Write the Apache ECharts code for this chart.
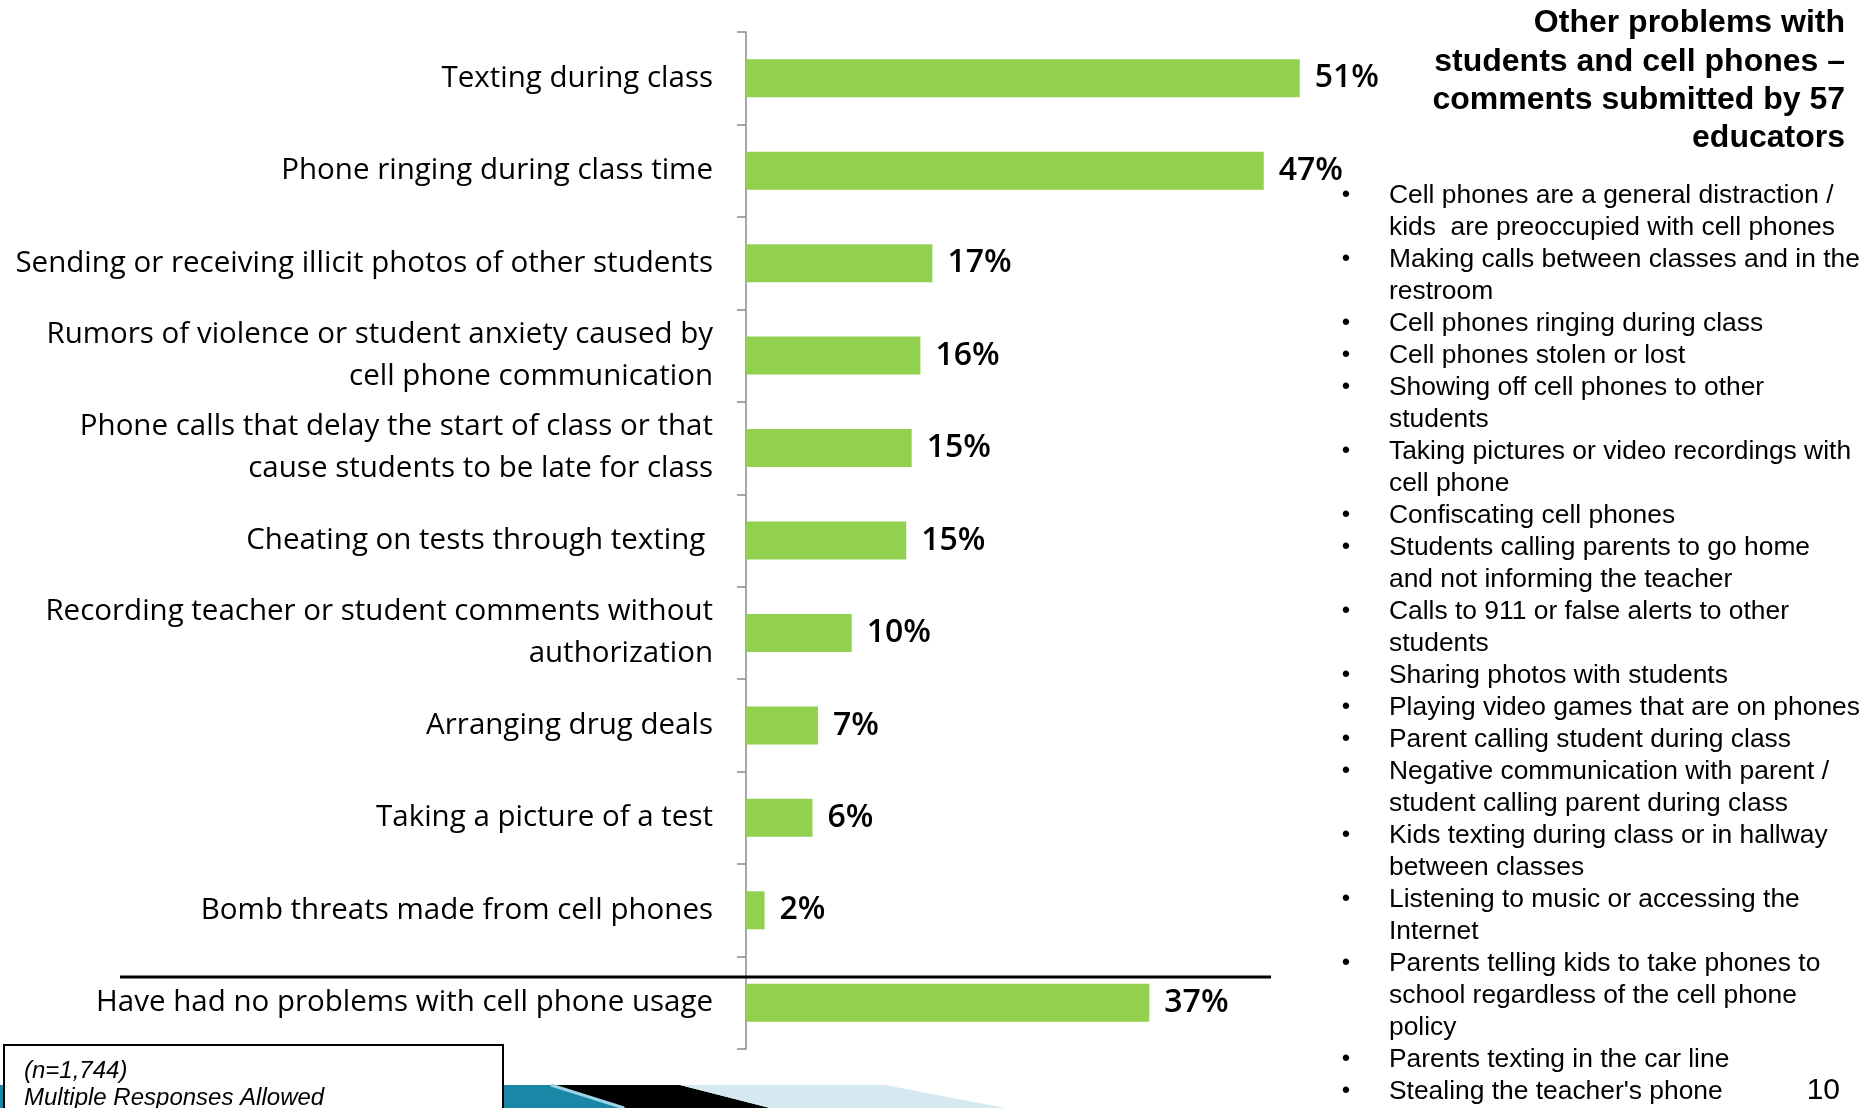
<!DOCTYPE html>
<html>
<head>
<meta charset="utf-8">
<script src="https://cdn.jsdelivr.net/npm/echarts@6/dist/echarts.min.js"></script>
<style>
html,body{margin:0;padding:0;background:#fff;}
#chart{width:1873px;height:1108px;}
</style>
</head>
<body>
<div id="chart"></div>
<script>
// ---- data ----
const categories = [
  "Texting during class",
  "Phone ringing during class time",
  "Sending or receiving illicit photos of other students",
  "Rumors of violence or student anxiety caused by\ncell phone communication",
  "Phone calls that delay the start of class or that\ncause students to be late for class",
  "Cheating on tests through texting ",
  "Recording teacher or student comments without\nauthorization",
  "Arranging drug deals",
  "Taking a picture of a test",
  "Bomb threats made from cell phones",
  "Have had no problems with cell phone usage"
];
const values = [50.8, 47.5, 17.1, 16.0, 15.2, 14.7, 9.7, 6.6, 6.1, 1.7, 37.0];
const valueLabels = ["51%", "47%", "17%", "16%", "15%", "15%", "10%", "7%", "6%", "2%", "37%"];

const titleLines = [
  "Other problems with",
  "students and cell phones –",
  "comments submitted by 57",
  "educators"
];
const bulletItems = [
  ["Cell phones are a general distraction /", "kids  are preoccupied with cell phones"],
  ["Making calls between classes and in the", "restroom"],
  ["Cell phones ringing during class"],
  ["Cell phones stolen or lost"],
  ["Showing off cell phones to other", "students"],
  ["Taking pictures or video recordings with", "cell phone"],
  ["Confiscating cell phones"],
  ["Students calling parents to go home", "and not informing the teacher"],
  ["Calls to 911 or false alerts to other", "students"],
  ["Sharing photos with students"],
  ["Playing video games that are on phones"],
  ["Parent calling student during class"],
  ["Negative communication with parent /", "student calling parent during class"],
  ["Kids texting during class or in hallway", "between classes"],
  ["Listening to music or accessing the", "Internet"],
  ["Parents telling kids to take phones to", "school regardless of the cell phone", "policy"],
  ["Parents texting in the car line"],
  ["Stealing the teacher's phone"]
];
const footnoteLines = ["(n=1,744)", "Multiple Responses Allowed"];
const pageNumber = "10";

// ---- graphics ----
const graphics = [];
// title
titleLines.forEach((t, i) => {
  graphics.push({
    type: 'text', x: 1845, y: 23.5 + i * 38.2,
    style: { text: t, fill: '#000', font: 'bold 32px "Liberation Sans", Arial, sans-serif',
             textAlign: 'right', textVerticalAlign: 'middle' }
  });
});
// bullets
let lineIdx = 0;
const bulletTop = 195.7, bulletStep = 32.0;
bulletItems.forEach(item => {
  graphics.push({
    type: 'text', x: 1346, y: bulletTop + lineIdx * bulletStep,
    style: { text: '•', fill: '#000', font: '24px "Liberation Sans", Arial, sans-serif',
             textAlign: 'center', textVerticalAlign: 'middle' }
  });
  item.forEach(line => {
    graphics.push({
      type: 'text', x: 1389, y: bulletTop + lineIdx * bulletStep,
      style: { text: line, fill: '#000', font: '26.4px "Liberation Sans", Arial, sans-serif',
               textAlign: 'left', textVerticalAlign: 'middle' }
    });
    lineIdx++;
  });
});
// page number
graphics.push({
  type: 'text', x: 1840, y: 1091,
  style: { text: pageNumber, fill: '#000', font: '30px "Liberation Sans", Arial, sans-serif',
           textAlign: 'right', textVerticalAlign: 'middle' }
});
// separator line
graphics.push({
  type: 'line', shape: { x1: 120, y1: 977, x2: 1271, y2: 977 },
  style: { stroke: '#000', lineWidth: 3 }, z: 10
});
// bottom decorative band
graphics.push({ type: 'polygon', shape: { points: [[0,1085],[553,1085],[626,1108],[0,1108]] }, style: { fill: '#1a87a7' }, z: 1 });
graphics.push({ type: 'polygon', shape: { points: [[553,1085],[680,1085],[770,1108],[626,1108]] }, style: { fill: '#000' }, z: 1 });
graphics.push({ type: 'line', shape: { x1: 551, y1: 1085, x2: 624, y2: 1108 }, style: { stroke: '#9fd3e6', lineWidth: 3 }, z: 2 });
graphics.push({ type: 'polygon', shape: { points: [[680,1085],[885,1085],[1005,1108],[770,1108]] }, style: { fill: '#d6e9f1' }, z: 1 });
// footnote box
graphics.push({
  type: 'rect', shape: { x: 4, y: 1045, width: 499, height: 80 },
  style: { fill: '#fff', stroke: '#000', lineWidth: 2 }, z: 5
});
footnoteLines.forEach((t, i) => {
  graphics.push({
    type: 'text', x: 24, y: 1071 + i * 27, z: 6,
    style: { text: t, fill: '#000', font: 'italic 24px "Liberation Sans", Arial, sans-serif',
             textAlign: 'left', textVerticalAlign: 'middle' }
  });
});

const chart = echarts.init(document.getElementById('chart'), null, { renderer: 'canvas' });
chart.setOption({
  animation: false,
  backgroundColor: '#fff',
  grid: { left: 746, top: 32, width: 1090, height: 1017, containLabel: false },
  xAxis: { type: 'value', min: 0, max: 100, show: false },
  yAxis: {
    type: 'category', data: categories, inverse: true,
    axisLine: { show: true, lineStyle: { color: '#8a8a8a', width: 1.5 } },
    axisTick: { show: true, length: 9, lineStyle: { color: '#8a8a8a', width: 1.5 } },
    axisLabel: {
      color: '#000', fontSize: 29.5, fontFamily: '"Open Sans", "Noto Sans", sans-serif',
      margin: 33, lineHeight: 42, align: 'right', padding: [0, 0, 6, 0]
    }
  },
  series: [{
    type: 'bar', data: values, barWidth: 38,
    itemStyle: { color: '#92d050' },
    label: {
      show: true, position: 'right', distance: 15,
      formatter: p => valueLabels[p.dataIndex],
      color: '#000', fontSize: 32, fontWeight: 600,
      fontFamily: '"Open Sans", "Noto Sans", sans-serif'
    }
  }],
  graphic: graphics
});
</script>
</body>
</html>
